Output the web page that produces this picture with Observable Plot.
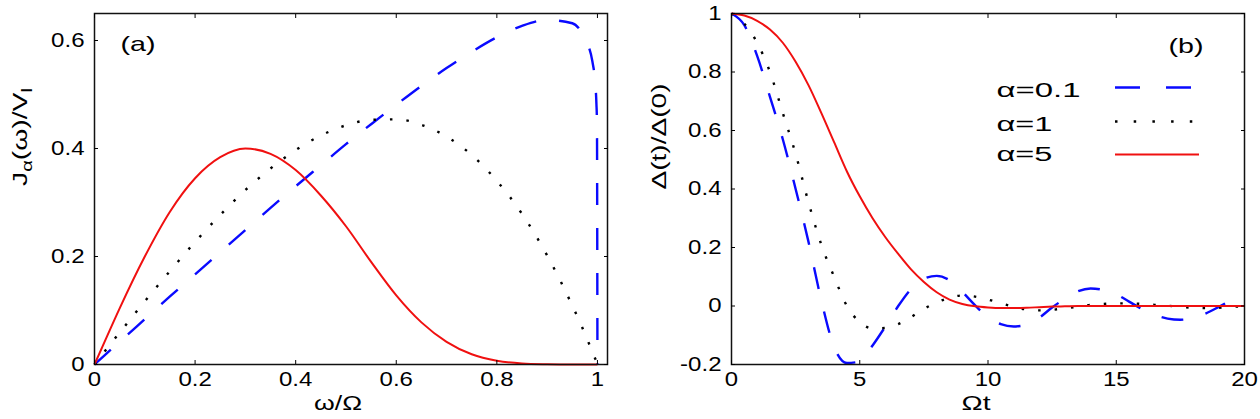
<!DOCTYPE html>
<html><head><meta charset="utf-8">
<script src="https://cdn.jsdelivr.net/npm/d3@7"></script>
<script src="https://cdn.jsdelivr.net/npm/@observablehq/plot@0.6"></script>
<style>
body{margin:0;background:#fff;}
#wrap{display:flex;width:1260px;height:419px;background:#fff;}
svg{display:block}
</style></head><body><div id="wrap"></div>
<script>
// ---------- Panel (a): spectral density J_alpha(omega)/V_l ----------
const omega = [0, 0.02, 0.05, 0.1, 0.15, 0.2, 0.25, 0.3, 0.35, 0.4, 0.45, 0.5, 0.55, 0.6, 0.65, 0.7, 0.75, 0.8, 0.85, 0.9, 0.95, 0.97, 0.98, 0.99, 0.995, 0.998, 0.999, 1];
const jAlpha01 = [0, 0.017, 0.042, 0.084, 0.126, 0.167, 0.208, 0.249, 0.290, 0.330, 0.369, 0.408, 0.445, 0.481, 0.516, 0.549, 0.579, 0.606, 0.627, 0.638, 0.632, 0.613, 0.595, 0.561, 0.527, 0.482, 0.450, 0];
const jAlpha1 = [0, 0.024, 0.059, 0.117, 0.173, 0.227, 0.277, 0.323, 0.363, 0.397, 0.424, 0.443, 0.453, 0.454, 0.444, 0.422, 0.388, 0.340, 0.279, 0.202, 0.109, 0.068, 0.046, 0.023, 0.012, 0.005, 0.002, 0];
const jAlpha5 = [0, 0.042, 0.104, 0.200, 0.283, 0.345, 0.384, 0.400, 0.390, 0.360, 0.313, 0.256, 0.190, 0.128, 0.078, 0.042, 0.019, 0.007, 0.002, 0.0005, 0, 0, 0, 0, 0, 0, 0, 0];

// ---------- Panel (b): Delta(t)/Delta(0) ----------
const tGrid = [0, 0.5, 1, 1.5, 2, 2.5, 3, 3.5, 4, 4.5, 5, 5.5, 6, 6.5, 7, 7.5, 8, 8.5, 9, 9.5, 10, 10.5, 11, 11.5, 12, 12.5, 13, 13.5, 14, 14.5, 15, 15.5, 16, 16.5, 17, 17.5, 18, 18.5, 19, 19.5, 20];
const dAlpha01 = [1, 0.96, 0.855, 0.715, 0.57, 0.40, 0.22, 0.02, -0.14, -0.195, -0.19, -0.135, -0.07, 0.0, 0.058, 0.093, 0.103, 0.088, 0.048, 0.002, -0.038, -0.062, -0.07, -0.064, -0.04, -0.005, 0.025, 0.05, 0.06, 0.055, 0.04, 0.015, -0.01, -0.03, -0.043, -0.047, -0.04, -0.025, -0.003, 0.02, 0.035];
const dAlpha1 = [1, 0.965, 0.90, 0.80, 0.66, 0.52, 0.355, 0.21, 0.10, 0.0, -0.055, -0.077, -0.075, -0.062, -0.038, -0.01, 0.012, 0.028, 0.036, 0.032, 0.022, 0.01, -0.003, -0.012, -0.015, -0.013, -0.008, -0.002, 0.004, 0.007, 0.009, 0.009, 0.007, 0.004, 0.001, -0.003, -0.006, -0.007, -0.006, -0.003, 0];
const dAlpha5 = [1, 0.993, 0.975, 0.945, 0.90, 0.835, 0.755, 0.66, 0.56, 0.46, 0.375, 0.30, 0.235, 0.178, 0.125, 0.082, 0.047, 0.022, 0.007, -0.001, -0.005, -0.007, -0.007, -0.006, -0.004, -0.002, -0.001, 0, 0, 0, 0, 0, 0, 0, 0, 0, 0, 0, 0, 0, 0];

// ---------- series, ticks, labels ----------
const seriesLabels = ["α=0.1", "α=1", "α=5"];
const seriesColors = ["#0a0aff", "#000000", "#f01010"];
const xTicksA = [0, 0.2, 0.4, 0.6, 0.8, 1];
const xTickLabelsA = ["0", "0.2", "0.4", "0.6", "0.8", "1"];
const yTicksA = [0, 0.2, 0.4, 0.6];
const yTickLabelsA = ["0", "0.2", "0.4", "0.6"];
const xTicksB = [0, 5, 10, 15, 20];
const xTickLabelsB = ["0", "5", "10", "15", "20"];
const yTicksB = [-0.2, 0, 0.2, 0.4, 0.6, 0.8, 1];
const yTickLabelsB = ["-0.2", "0", "0.2", "0.4", "0.6", "0.8", "1"];

const FONT = "'Liberation Sans', Arial, Helvetica, sans-serif";
const widths = [2.4, 2.4, 2];
const dashes = ["22,23", "2.5,14", null];
const legendDashes = ["25,26", "2.5,16.2", null];

function seriesLine(xs, ys, i) {
  return Plot.line(xs, {x: d => d, y: (d, k) => ys[k], stroke: seriesColors[i], strokeWidth: widths[i],
    strokeDasharray: dashes[i], strokeLinecap: "butt", curve: "monotone-x"});
}
function axes(xt, xl, yt, yl) {
  const fx = d => xl[xt.indexOf(d)];
  const fy = d => yl[yt.indexOf(d)];
  return [
    Plot.axisX({anchor: "bottom", ticks: xt, tickFormat: fx, tickSize: -4, tickPadding: 11, label: null}),
    Plot.axisX({anchor: "top", ticks: xt, tickFormat: () => "", tickSize: -4, label: null}),
    Plot.axisY({anchor: "left", ticks: yt, tickFormat: fy, tickSize: -4, tickPadding: 14, label: null}),
    Plot.axisY({anchor: "right", ticks: yt, tickFormat: () => "", tickSize: -4, label: null})
  ];
}
const style = {fontFamily: FONT, fontSize: "20px", color: "#000", background: "#fff", overflow: "visible"};

const plotA = Plot.plot({
  width: 630, height: 419,
  marginLeft: 94, marginRight: 23, marginTop: 13, marginBottom: 55,
  x: {domain: [0, 1.02]},
  y: {domain: [0, 0.65]},
  style,
  marks: [
    seriesLine(omega, jAlpha01, 0),
    seriesLine(omega, jAlpha1, 1),
    seriesLine(omega, jAlpha5, 2),
    Plot.frame({stroke: "#111", strokeWidth: 1.5}),
    ...axes(xTicksA, xTickLabelsA, yTicksA, yTickLabelsA),
    Plot.text(["ω/Ω"], {frameAnchor: "bottom", dx: -13, dy: 39, lineAnchor: "middle", fontSize: 21}),
    Plot.text(["Jα(ω)/Vl"], {frameAnchor: "left", dx: -74, dy: -3, rotate: -90, lineAnchor: "middle", fontSize: 21}),
    Plot.text(["(a)"], {frameAnchor: "top-left", textAnchor: "start", dx: 26, dy: 30.5, lineAnchor: "middle", fontSize: 21})
  ]
});

const plotB = Plot.plot({
  width: 630, height: 419,
  marginLeft: 101, marginRight: 16, marginTop: 13, marginBottom: 55,
  x: {domain: [0, 20]},
  y: {domain: [-0.2, 1]},
  style,
  marks: [
    seriesLine(tGrid, dAlpha01, 0),
    seriesLine(tGrid, dAlpha1, 1),
    seriesLine(tGrid, dAlpha5, 2),
    Plot.frame({stroke: "#111", strokeWidth: 1.5}),
    ...axes(xTicksB, xTickLabelsB, yTicksB, yTickLabelsB),
    Plot.text(["Ωt"], {frameAnchor: "bottom", dx: -12, dy: 39, lineAnchor: "middle", fontSize: 21}),
    Plot.text(["Δ(t)/Δ(0)"], {frameAnchor: "left", dx: -72.5, dy: 0.5, rotate: -90, lineAnchor: "middle", fontSize: 21}),
    Plot.text(["(b)"], {frameAnchor: "top-right", textAnchor: "end", dx: -41, dy: 32.5, lineAnchor: "middle", fontSize: 21}),
    ...seriesLabels.map((s, i) => Plot.text([s], {frameAnchor: "top-right", textAnchor: "start", dx: -248, dy: [77, 111, 141][i], lineAnchor: "middle", fontSize: 20})),
    ...seriesLabels.map((s, i) => Plot.ruleY([1], {dy: [74, 108, 141][i], insetLeft: 384, insetRight: 45,
      stroke: seriesColors[i], strokeWidth: widths[i], strokeDasharray: legendDashes[i]}))
  ]
});

const wrap = document.getElementById("wrap");
wrap.appendChild(plotA);
wrap.appendChild(plotB);

// ---------- text adjustments (horizontally stretched look of the original) ----------
function stretchTicks(svg) {
  svg.querySelectorAll('g[aria-label$="tick label"] text').forEach(t => {
    const L = t.getComputedTextLength();
    if (L > 0) { t.setAttribute("textLength", (L * 1.2).toFixed(1)); t.setAttribute("lengthAdjust", "spacingAndGlyphs"); }
  });
}
function setLen(svg, content, len) {
  for (const t of svg.querySelectorAll("text")) if (t.textContent === content) {
    t.setAttribute("textLength", len); t.setAttribute("lengthAdjust", "spacingAndGlyphs");
  }
}
function subscripts(svg, content, parts) {
  const NS = "http://www.w3.org/2000/svg";
  for (const t of svg.querySelectorAll("text")) if (t.textContent === content) {
    t.textContent = "";
    let shifted = false;
    for (const [s, sub] of parts) {
      const ts = document.createElementNS(NS, "tspan");
      ts.textContent = s;
      if (sub && !shifted) { ts.setAttribute("dy", "5"); ts.setAttribute("font-size", "15"); shifted = true; }
      else if (!sub && shifted) { ts.setAttribute("dy", "-5"); shifted = false; }
      else if (sub) ts.setAttribute("font-size", "15");
      t.appendChild(ts);
    }
  }
}
stretchTicks(plotA); stretchTicks(plotB);
setLen(plotA, "ω/Ω", 48); setLen(plotA, "(a)", 35);
setLen(plotB, "Ωt", 29); setLen(plotB, "(b)", 35);
setLen(plotB, "α=0.1", 84); setLen(plotB, "α=1", 56); setLen(plotB, "α=5", 56);
setLen(plotB, "Δ(t)/Δ(0)", 106);
subscripts(plotA, "Jα(ω)/Vl", [["J", false], ["α", true], ["(ω)/V", false], ["l", true]]);
setLen(plotA, "Jα(ω)/Vl", 98);
</script></body></html>
